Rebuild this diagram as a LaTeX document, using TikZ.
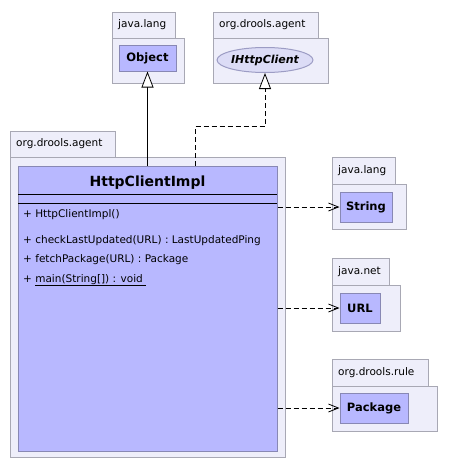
\documentclass[tikz,border=0pt]{standalone}
\usepackage{fontspec}
\setmainfont{DejaVu Sans}
\usetikzlibrary{arrows.meta,shapes.geometric}
\definecolor{pkgfill}{HTML}{EEEEFA}
\definecolor{pkgdraw}{HTML}{A8A8B4}
\definecolor{clsfill}{HTML}{B8B8FF}
\definecolor{clsdraw}{HTML}{8888B4}
\definecolor{ifill}{HTML}{DCDCF6}
\definecolor{idraw}{HTML}{9C9CC4}
\newcommand\pkgbox[7]{%
  \draw[pkgstyle] (#1,#2) rectangle (#3,#4);
  \draw[pkgstyle] (#1,#4) rectangle (#5,#6);
  \node[pkglabel] at (#1+6,{(#2+#4)/2}) {#7};
}
\begin{document}
\begin{tikzpicture}[x=1pt,y=-1pt,
  pkgstyle/.style={draw=pkgdraw,fill=pkgfill,line width=1pt},
  pkglabel/.style={anchor=west,inner sep=0pt,font=\fontsize{10.5}{12}\selectfont},
  cls/.style={draw=clsdraw,fill=clsfill,line width=1pt,inner sep=0pt,font=\bfseries\fontsize{11.5}{13}\selectfont},
  meth/.style={anchor=base west,inner sep=0pt,font=\fontsize{10.5}{12}\selectfont},
  dep/.style={dash pattern=on 5pt off 3pt,line width=0.8pt,-{Straight Barb[length=10pt,width=8pt]}},
  gen/.style={line width=0.8pt,-{Triangle[open,fill=white,length=16pt,width=12pt]}},
  real/.style={dash pattern=on 5pt off 3pt,line width=0.8pt,-{Triangle[open,fill=white,length=16pt,width=12pt]}}]
\useasboundingbox (0,0) rectangle (454,469);
% packages
\pkgbox{112}{12}{175}{38}{184}{83}{java.lang}
\pkgbox{213}{12}{318}{38}{328}{83}{org.drools.agent}
\pkgbox{10}{131}{115}{157}{285}{457}{org.drools.agent}
\pkgbox{332}{157}{395}{184}{406}{229}{java.lang}
\pkgbox{332}{258}{389}{285}{400}{331}{java.net}
\pkgbox{332}{359}{428}{386}{437}{431}{org.drools.rule}
% classes
\node[cls,minimum width=57pt,minimum height=26pt] (obj) at (147.5,58) {Object};
\node[ellipse,draw=idraw,fill=ifill,line width=1pt,inner sep=0pt,minimum width=88pt,minimum height=25pt,font=\bfseries\itshape\fontsize{11}{13}\selectfont] (ihc) at (265,60) {IHttpClient};
\node[cls,minimum width=52pt,minimum height=30pt] (str) at (366,207) {String};
\node[cls,minimum width=40pt,minimum height=30pt] (url) at (360,308) {URL};
\node[cls,minimum width=68pt,minimum height=30pt] (pkg) at (374,408) {Package};
\node[cls,minimum width=259pt,minimum height=285pt] (impl) at (147.5,308.5) {};
\node[font=\bfseries\fontsize{14}{16}\selectfont,inner sep=0pt] (title) at (147.5,183) {HttpClientImpl};
\draw[line width=1pt] (18,194) -- (277,194);
\draw[line width=1pt] (18,203) -- (277,203);
\node[meth] (m1) at (23,217) {+ HttpClientImpl()};
\node[meth] (m2) at (23,243) {+ checkLastUpdated(URL) : LastUpdatedPing};
\node[meth] (m3) at (23,262) {+ fetchPackage(URL) : Package};
\node[meth] (m4) at (23,282) {+ \underline{main(String[]) : void\ }};
% connectors
\coordinate (rs) at (195,165.5);
\draw[gen] (obj.south |- impl.north) -- (obj.south);
\draw[real] (rs) -- (195,126) -| (ihc.south);
\draw[dep] (impl.east |- str.west) -- (str.west);
\draw[dep] (impl.east |- url.west) -- (url.west);
\draw[dep] (impl.east |- pkg.west) -- (pkg.west);
\end{tikzpicture}
\end{document}
